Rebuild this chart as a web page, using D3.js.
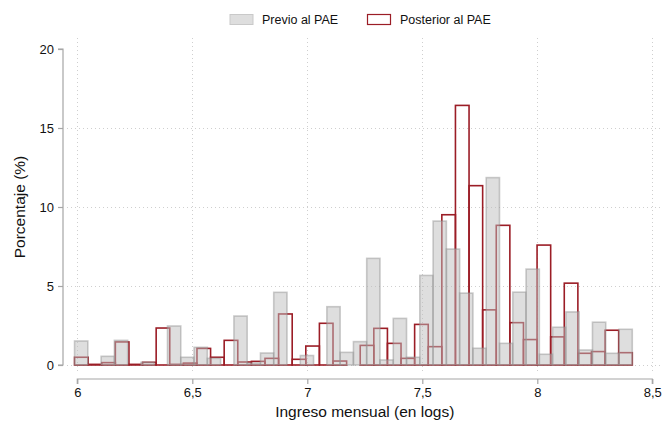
<!DOCTYPE html>
<html><head><meta charset="utf-8">
<script src="https://cdn.jsdelivr.net/npm/d3@7"></script>
<style>
html,body{margin:0;padding:0;background:#fff;}
text{font-family:"Liberation Sans",Arial,Helvetica,sans-serif;fill:#111;}
</style></head>
<body>
<svg id="chart" width="669" height="421"></svg>
<script>
// ---- data ----
const seriesNames = ["Previo al PAE", "Posterior al PAE"];
const binStart = 5.988;   // lower edge of first bin (log income)
const binEnd = 8.413;     // upper edge of last bin
// Previo al PAE: 42 bins (%)
const previo = [1.52,0,0.55,1.56,0,0.17,0,2.47,0.49,1.12,0.42,0,3.10,0.12,0.76,4.60,0,0.60,0,3.69,
  0.80,1.48,6.75,0.32,2.95,0.49,5.67,9.11,7.34,4.55,1.06,11.86,1.37,4.61,6.07,0.68,2.39,3.36,0.95,2.71,0.74,2.26];
// Posterior al PAE: 41 bins (%)
const posterior = [0.49,0.04,0.15,1.46,0.04,0.17,2.34,0.04,0.12,1.05,0.49,1.56,0.19,0.23,0.42,3.23,0.36,1.20,2.64,0.25,
  0,1.24,2.32,1.37,0.42,2.57,1.16,9.51,16.43,11.35,3.49,8.84,2.68,1.61,7.59,1.78,5.18,0.74,0.85,2.20,0.78];
const xTicks = [6, 6.5, 7, 7.5, 8, 8.5];
const yTicks = [0, 5, 10, 15, 20];
const xTitle = "Ingreso mensual (en logs)";
const yTitle = "Porcentaje (%)";

function bins(vals){
  const w = (binEnd - binStart) / vals.length;
  return vals.map((v,i)=>({x0: binStart + i*w, x1: binStart + (i+1)*w, v}));
}

// ---- layout ----
const svg = d3.select("#chart");
const x = d3.scaleLinear().domain([6, 8.5]).range([77.3, 652.3]);
const y = d3.scaleLinear().domain([0, 20]).range([365, 49]);
const fmt = d => String(d).replace(".", ",");

svg.append("rect").attr("width",669).attr("height",421).attr("fill","#fff");

// gridlines
const grid = svg.append("g").attr("stroke","#cfcfcf").attr("stroke-width",1).attr("stroke-dasharray","1,3");
grid.selectAll(".hg").data(yTicks.filter(d=>d<20)).enter().append("line")
  .attr("x1",67).attr("x2",661).attr("y1",d=>y(d)+0.5).attr("y2",d=>y(d)+0.5);
grid.selectAll(".vg").data(xTicks).enter().append("line")
  .attr("y1",38).attr("y2",373).attr("x1",d=>Math.round(x(d))+0.5).attr("x2",d=>Math.round(x(d))+0.5);

// red (posterior) first
svg.append("g").selectAll("rect").data(bins(posterior)).enter().append("rect")
  .attr("x", d=>x(d.x0)).attr("width", d=>x(d.x1)-x(d.x0))
  .attr("y", d=>y(d.v)).attr("height", d=>y(0)-y(d.v))
  .attr("fill","none").attr("stroke","#9b1d26").attr("stroke-width",1.6);

// gray (previo) on top, semi-transparent
svg.append("g").selectAll("rect").data(bins(previo)).enter().append("rect")
  .attr("x", d=>x(d.x0)).attr("width", d=>x(d.x1)-x(d.x0))
  .attr("y", d=>y(d.v)).attr("height", d=>y(0)-y(d.v))
  .attr("fill","#bdbdbd").attr("fill-opacity",0.5)
  .attr("stroke","#8f8f8f").attr("stroke-opacity",0.45).attr("stroke-width",1.6);

// axes
const yAxis = d3.axisLeft(y).tickValues(yTicks).tickSize(5).tickPadding(4).tickFormat(fmt);
const gy = svg.append("g").attr("transform","translate(63,0)").call(yAxis);
const xAxis = d3.axisBottom(x).tickValues(xTicks).tickSize(5).tickPadding(4).tickFormat(fmt);
const gx = svg.append("g").attr("transform","translate(0,379)").call(xAxis);
[gx, gy].forEach(g=>{
  g.select(".domain").attr("stroke","#a6a6a6").attr("stroke-width",1.2)
  g.selectAll(".tick line").attr("stroke","#a6a6a6").attr("stroke-width",1.2);
  g.selectAll(".tick text").attr("font-size",13).attr("fill","#111")
   .attr("font-family",'"Liberation Sans",Arial,sans-serif');
});
gy.select(".domain").attr("d", `M-5,${y(20)}H0V${y(0)}H-5`);
gx.select(".domain").attr("d", `M${x(6)},5V0H${x(8.5)}V5`);

// titles
svg.append("text").attr("x", (x(6)+x(8.5))/2).attr("y", 417).attr("text-anchor","middle")
  .attr("font-size",15.5).text(xTitle);
svg.append("text").attr("transform",`translate(25,${(y(0)+y(20))/2}) rotate(-90)`)
  .attr("text-anchor","middle").attr("font-size",15.5).text(yTitle);

// legend
const lg = svg.append("g");
lg.append("rect").attr("x",230).attr("y",14.5).attr("width",23).attr("height",10)
  .attr("fill","#dedede").attr("stroke","#c9c9c9").attr("stroke-width",1);
lg.append("text").attr("x",262).attr("y",24).attr("font-size",12.5).text(seriesNames[0]);
lg.append("rect").attr("x",367.5).attr("y",14.5).attr("width",23).attr("height",10)
  .attr("fill","#fff").attr("stroke","#9b1d26").attr("stroke-width",1.2);
lg.append("text").attr("x",400).attr("y",24).attr("font-size",12.5).text(seriesNames[1]);
</script>
</body></html>
